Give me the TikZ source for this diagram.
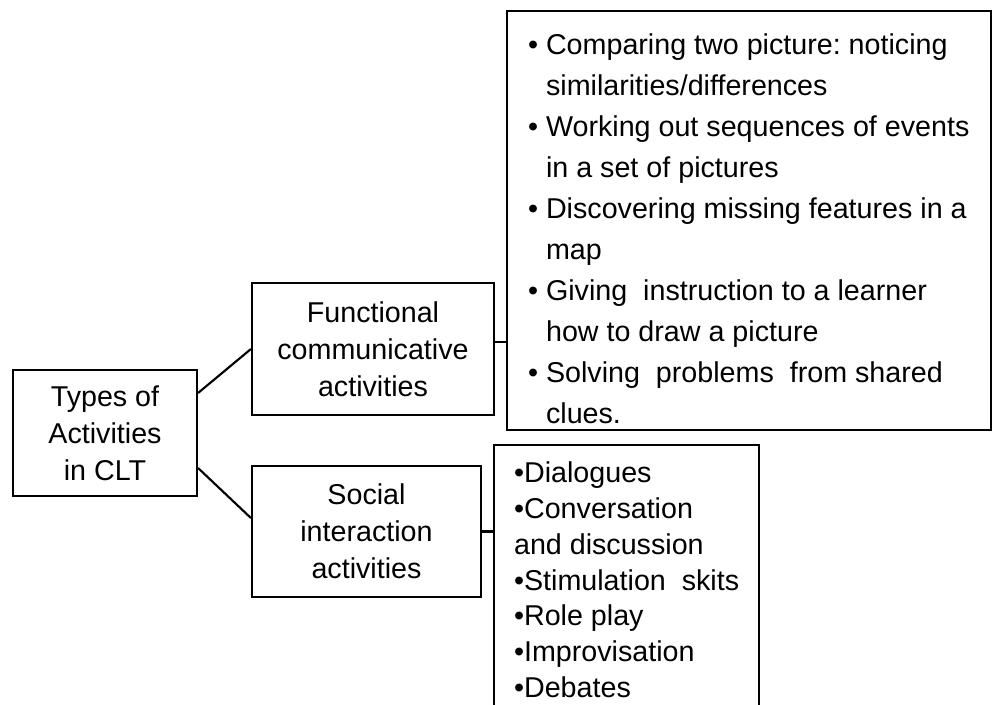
\documentclass[tikz,border=0pt]{standalone}
\usepackage{fontspec}
\setmainfont{Liberation Sans}
\frenchspacing
\newcommand{\mybul}{\makebox[13.5pt][l]{\textbullet}}
\newcommand{\myind}{\hspace*{13.5pt}}
\begin{document}
\begin{tikzpicture}[x=0.75pt,y=-0.75pt,line width=1.6pt,
  box/.style={draw, rectangle, inner sep=0pt, align=center,
    font=\fontsize{21.5}{27.6}\selectfont\frenchspacing},
  listA/.style={inner sep=0pt, align=left, anchor=north west,
    font=\fontsize{21.5}{30.7}\selectfont\frenchspacing},
  listB/.style={inner sep=0pt, align=left, anchor=north west,
    font=\fontsize{21.5}{26.8}\selectfont\frenchspacing},
  frame/.style={draw, rectangle, inner sep=0pt, anchor=north west}]
\useasboundingbox (0,0) rectangle (992,705);
\clip (0,0) rectangle (992,705);
% boxes
\node[box, minimum width=138pt, minimum height=94.5pt] (types) at (105,433) {Types of\\Activities\\in CLT};
\node[box, minimum width=181.5pt, minimum height=99pt] (func) at (373,349) {Functional\\communicative\\activities};
\node[box, minimum width=171.75pt, minimum height=98.25pt] (social) at (366.5,531.5) {Social\\interaction\\activities};
\node[frame, minimum width=363pt, minimum height=314.25pt] (fbox) at (506,10) {};
\node[frame, minimum width=198.75pt, minimum height=300pt] (sbox) at (493,444) {};
% list texts
\node[listA] (ftext) at (527,33) {\mybul Comparing two picture: noticing\\
\myind similarities/differences\\
\mybul Working out sequences of events\\
\myind in a set of pictures\\
\mybul Discovering missing features in a\\
\myind map\\
\mybul Giving\ \ instruction to a learner\\
\myind how to draw a picture\\
\mybul Solving\ \ problems\ \ from shared\\
\myind clues.};
\node[listB] (stext) at (513,461) {\textbullet Dialogues\\
\textbullet Conversation\\
and discussion\\
\textbullet Stimulation\ \ skits\\
\textbullet Role play\\
\textbullet Improvisation\\
\textbullet Debates};
% connectors
\coordinate (fc) at ([yshift=5.25pt]func.east);
\draw ([yshift=30pt]types.east) -- (func.west);
\draw ([yshift=-26.25pt]types.east) -- ([yshift=10.1pt]social.west);
\draw (fc) -- (fc -| fbox.west);
\draw (social.east) -- (social.east -| sbox.west);
\end{tikzpicture}
\end{document}
